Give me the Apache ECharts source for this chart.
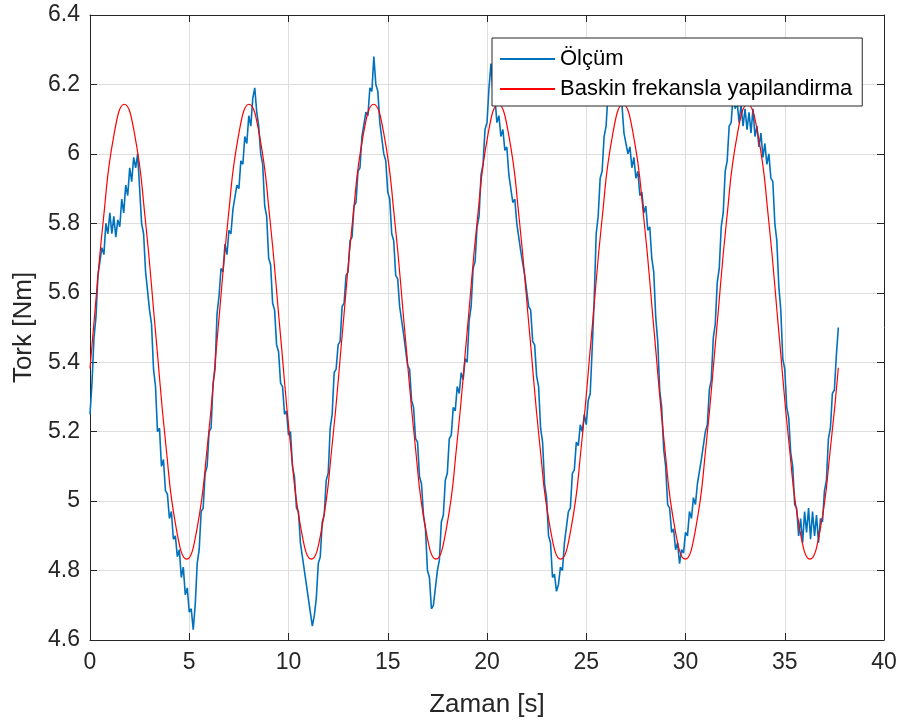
<!DOCTYPE html>
<html><head><meta charset="utf-8">
<script src="https://cdn.jsdelivr.net/npm/echarts@6/dist/echarts.min.js"></script>
<style>html,body{margin:0;padding:0;background:#fff}#c{width:905px;height:723px}</style>
</head><body><div id="c"></div>
<script>
// Measured torque, sampled every 0.1 s from t = 0
const sampleStep = 0.1;
const olcum = [
5.25,5.34,5.47,5.53,5.65,5.65,5.73,5.71,5.80,5.77,5.83,5.77,5.82,5.76,5.81,5.79,5.87,5.83,5.91,5.88,5.96,5.92,5.99,5.96,6.00,
5.90,5.80,5.77,5.66,5.66,5.55,5.51,5.38,5.33,5.20,5.21,5.10,5.12,5.03,5.02,4.95,4.97,4.89,4.90,4.84,4.86,4.78,4.81,4.73,4.75,4.68,4.69,4.63,
4.70,4.82,4.86,4.97,4.98,5.08,5.10,5.20,5.21,5.34,5.38,5.54,5.59,5.67,5.66,5.74,5.71,5.78,5.77,5.84,5.84,5.91,5.90,5.98,5.97,6.05,6.03,6.11,6.08,6.16,6.19,6.12,
6.08,6.00,5.97,5.85,5.82,5.70,5.68,5.57,5.55,5.45,5.43,5.34,5.33,5.25,5.26,5.19,5.20,5.10,5.07,4.98,4.97,4.88,4.88,4.80,4.80,4.72,4.72,4.64,4.67,
4.72,4.82,4.84,4.94,4.96,5.06,5.08,5.21,5.25,5.37,5.38,5.45,5.46,5.56,5.57,5.65,5.66,5.75,5.76,5.85,5.86,5.95,5.96,6.05,6.05,6.12,6.11,6.19,6.18,6.28,6.20,
6.18,6.09,6.09,6.00,5.98,5.89,5.87,5.77,5.75,5.65,5.64,5.56,5.56,5.48,5.48,5.39,5.38,5.29,5.27,5.18,5.17,5.07,5.05,4.96,4.92,4.80,4.78,4.69,4.70,
4.70,4.80,4.83,4.94,4.96,5.06,5.08,5.18,5.19,5.27,5.26,5.33,5.31,5.37,5.35,5.41,5.40,5.52,5.56,5.67,5.69,5.79,5.82,5.94,5.97,6.07,6.09,6.19,6.26,6.18,
6.16,6.09,6.11,6.05,6.07,6.01,6.02,5.94,5.94,5.86,5.87,5.80,5.80,5.72,5.72,5.65,5.65,5.56,5.55,5.46,5.45,5.36,5.33,5.21,5.17,5.05,5.01,4.90,4.88,4.78,4.79,4.74,
4.76,4.81,4.80,4.88,4.88,4.97,4.98,5.08,5.09,5.17,5.16,5.22,5.20,5.25,5.22,5.29,5.31,5.44,5.58,5.77,5.82,5.93,5.95,6.05,6.08,6.18,6.20,6.29,6.28,6.30,6.20,6.19,
6.14,6.06,6.06,6.00,6.02,5.96,5.99,5.93,5.95,5.88,5.89,5.83,5.85,5.78,5.79,5.70,5.66,5.53,5.46,5.32,5.27,5.15,5.10,4.99,4.98,4.91,4.92,4.86,4.88,4.82,4.86,
4.85,4.91,4.90,4.97,4.95,5.01,4.99,5.05,5.05,5.12,5.12,5.20,5.22,5.32,5.35,5.47,5.51,5.63,5.67,5.79,5.83,5.95,5.98,6.08,6.09,6.17,6.13,
6.15,6.09,6.14,6.08,6.13,6.07,6.12,6.06,6.13,6.05,6.08,6.02,6.06,5.99,6.03,5.97,6.00,5.93,5.92,5.80,5.75,5.62,5.55,5.41,5.38,5.27,5.24,5.14,5.10,4.99,
4.98,4.90,4.95,4.88,4.97,4.91,4.98,4.89,4.97,4.90,4.96,4.88,4.95,4.94,5.03,5.06,5.18,5.21,5.31,5.32,5.42,5.50
];

// Fitted dominant-frequency curve
const fitTime = [0,0.16,0.683,1.207,1.73,2.253,2.777,3.3,3.823,4.347,4.87,5.393,5.917,6.44,6.963,7.487,8.01,8.533,9.057,9.58,10.103,10.627,11.15,11.673,12.197,12.72,13.243,13.767,14.29,14.813,15.337,15.86,16.383,16.907,17.43,17.953,18.477,19.0,19.523,20.047,20.57,21.093,21.617,22.14,22.663,23.187,23.71,24.233,24.757,25.28,25.803,26.327,26.85,27.373,27.897,28.42,28.943,29.467,29.99,30.513,31.037,31.56,32.083,32.607,33.13,33.653,34.177,34.7,35.223,35.747,36.27,36.793,37.317,37.7];
const fitTork = [5.382,
5.488,5.816,6.055,6.143,6.055,5.816,5.488,5.161,4.921,4.833,4.921,5.161,
5.488,5.816,6.055,6.143,6.055,5.816,5.488,5.161,4.921,4.833,4.921,5.161,
5.488,5.816,6.055,6.143,6.055,5.816,5.488,5.161,4.921,4.833,4.921,5.161,
5.488,5.816,6.055,6.143,6.055,5.816,5.488,5.161,4.921,4.833,4.921,5.161,
5.488,5.816,6.055,6.143,6.055,5.816,5.488,5.161,4.921,4.833,4.921,5.161,
5.488,5.816,6.055,6.143,6.055,5.816,5.488,5.161,4.921,4.833,4.921,5.161,
5.384];

const seriesNames = ['Ölçüm', 'Baskin frekansla yapilandirma'];
const xTitle = 'Zaman [s]';
const yTitle = 'Tork [Nm]';

const FONT = 'Liberation Sans, Arial, sans-serif';
const AX = '#262626';

const olcumData = olcum.map((v, i) => [+(i * sampleStep).toFixed(2), v]);
const fitData = fitTime.map((t, i) => [t, fitTork[i]]);

const baseX = {
  type: 'value', min: 0, max: 40, interval: 5,
  axisLine: { show: true, onZero: false, lineStyle: { color: AX, width: 1 } },
  axisTick: { show: true, inside: true, length: 7, lineStyle: { color: AX } },
};
const baseY = {
  type: 'value', min: 4.6, max: 6.4, interval: 0.2,
  axisLine: { show: true, onZero: false, lineStyle: { color: AX, width: 1 } },
  axisTick: { show: true, inside: true, length: 7, lineStyle: { color: AX } },
};

const chart = echarts.init(document.getElementById('c'), null, { renderer: 'canvas' });
chart.setOption({
  animation: false,
  backgroundColor: '#fff',
  grid: { left: 90, right: 21, top: 15, bottom: 82, containLabel: false },
  xAxis: [
    Object.assign({}, baseX, {
      position: 'bottom',
      axisLabel: { fontSize: 23, color: AX, margin: 11, fontFamily: FONT },
      splitLine: { show: true, lineStyle: { color: '#dedede', width: 1 } },
      name: xTitle, nameLocation: 'middle', nameGap: 52,
      nameTextStyle: { fontSize: 26, color: AX, fontFamily: FONT }
    }),
    Object.assign({}, baseX, {
      position: 'top',
      axisLabel: { show: false },
      splitLine: { show: false }
    })
  ],
  yAxis: [
    Object.assign({}, baseY, {
      position: 'left',
      axisLabel: { fontSize: 23, color: AX, margin: 10, fontFamily: FONT,
        formatter: v => String(+v.toFixed(1)) },
      splitLine: { show: true, lineStyle: { color: '#dedede', width: 1 } },
      name: yTitle, nameLocation: 'middle', nameGap: 52,
      nameTextStyle: { fontSize: 26, color: AX, fontFamily: FONT }
    }),
    Object.assign({}, baseY, {
      position: 'right',
      axisLabel: { show: false },
      splitLine: { show: false }
    })
  ],
  legend: {
    data: seriesNames,
    orient: 'vertical',
    left: 492, top: 38,
    backgroundColor: '#fff',
    borderColor: AX, borderWidth: 1, borderRadius: 0,
    padding: [10, 10, 6, 8],
    icon: 'rect', itemWidth: 55, itemHeight: 2, itemGap: 8,
    textStyle: { fontSize: 22, color: '#000', fontFamily: FONT, lineHeight: 22 },
    z: 10
  },
  series: [
    {
      name: seriesNames[0], type: 'line', xAxisIndex: 0, yAxisIndex: 0,
      data: olcumData, showSymbol: false, symbol: 'none',
      color: '#0072BD', lineStyle: { color: '#0072BD', width: 1.6 },
      z: 2
    },
    {
      name: seriesNames[1], type: 'line', xAxisIndex: 0, yAxisIndex: 0,
      data: fitData, showSymbol: false, symbol: 'none', smooth: 0.5,
      color: '#FF0000', lineStyle: { color: '#FF0000', width: 1.2 },
      z: 3
    }
  ]
});
</script>
</body></html>
